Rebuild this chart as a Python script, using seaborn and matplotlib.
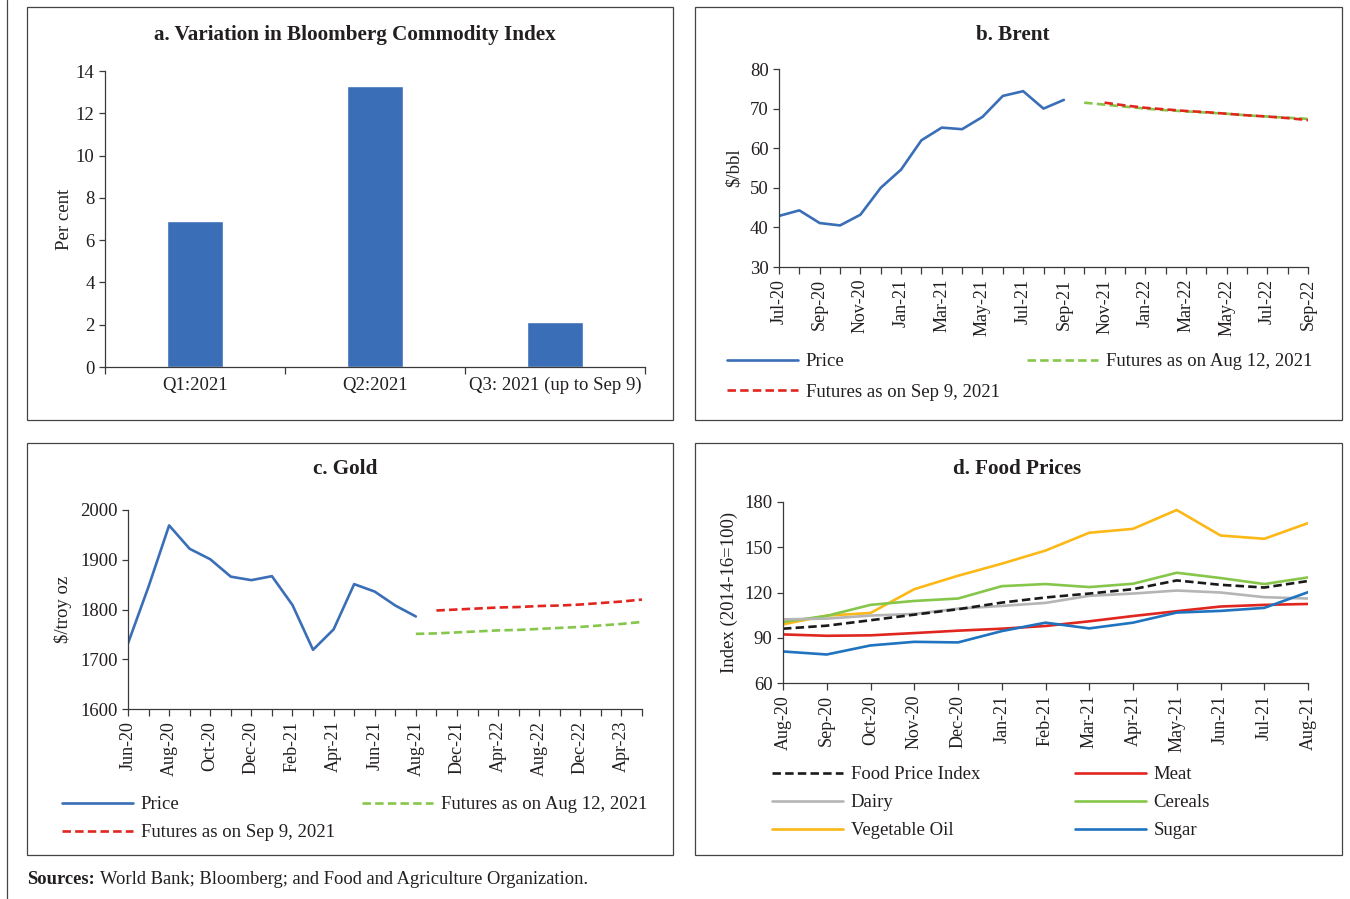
import matplotlib
matplotlib.use("Agg")
import matplotlib.pyplot as plt
import seaborn as sns
import pandas as pd
from matplotlib.patches import Rectangle
from matplotlib.lines import Line2D

# ---------------- data ----------------
# a. Bloomberg Commodity Index, quarterly variation (per cent)
bcom_quarters = ["Q1:2021", "Q2:2021", "Q3: 2021 (up to Sep 9)"]
bcom_change = [6.9, 13.3, 2.15]

# b. Brent ($/bbl), monthly Jul-20 .. Sep-22
brent_months = ["Jul-20", "Aug-20", "Sep-20", "Oct-20", "Nov-20", "Dec-20",
                "Jan-21", "Feb-21", "Mar-21", "Apr-21", "May-21", "Jun-21",
                "Jul-21", "Aug-21", "Sep-21", "Oct-21", "Nov-21", "Dec-21",
                "Jan-22", "Feb-22", "Mar-22", "Apr-22", "May-22", "Jun-22",
                "Jul-22", "Aug-22", "Sep-22"]
brent_price = [42.9, 44.3, 41.1, 40.5, 43.2, 50.0, 54.6, 62.0, 65.2, 64.8,
               67.9, 73.2, 74.4, 70.0, 72.2]
brent_fut_aug12 = [71.5, 71.0, 70.5, 70.0, 69.6, 69.3, 69.0, 68.7, 68.3,
                   68.0, 67.7, 67.4]          # Oct-21 .. Sep-22
brent_fut_sep9 = [71.5, 70.8, 70.2, 69.8, 69.4, 69.1, 68.7, 68.3, 68.0,
                  67.6, 67.1]                 # Nov-21 .. Sep-22

# c. Gold ($/troy oz)
gold_months = ["Jun-20", "Jul-20", "Aug-20", "Sep-20", "Oct-20", "Nov-20",
               "Dec-20", "Jan-21", "Feb-21", "Mar-21", "Apr-21", "May-21",
               "Jun-21", "Jul-21", "Aug-21", "Oct-21", "Dec-21", "Feb-22",
               "Apr-22", "Jun-22", "Aug-22", "Oct-22", "Dec-22", "Feb-23",
               "Apr-23", "Jun-23"]
gold_price = [1732, 1846, 1969, 1922, 1901, 1866, 1859, 1867, 1809, 1719,
              1760, 1851, 1836, 1808, 1786]
gold_fut_aug12 = [1751, 1752, 1754, 1756, 1758, 1759, 1761, 1763, 1765,
                  1768, 1771, 1775]           # Aug-21 .. Jun-23
gold_fut_sep9 = [1798, 1800, 1802, 1804, 1805, 1807, 1808, 1810, 1813,
                 1816, 1820]                  # Oct-21 .. Jun-23

# d. FAO food prices (2014-16=100)
food_months = ["Aug-20", "Sep-20", "Oct-20", "Nov-20", "Dec-20", "Jan-21",
               "Feb-21", "Mar-21", "Apr-21", "May-21", "Jun-21", "Jul-21",
               "Aug-21"]
food_index = [96.0, 98.0, 101.6, 105.3, 108.9, 113.3, 116.7, 119.3, 122.2,
              128.0, 125.1, 123.3, 127.6]
meat = [92.2, 91.3, 91.6, 93.1, 94.7, 96.0, 97.8, 100.9, 104.4, 107.6,
        110.7, 111.8, 112.4]
dairy = [102.2, 102.7, 104.7, 105.8, 109.3, 111.1, 113.1, 117.8, 119.3,
         121.3, 120.0, 116.9, 116.0]
cereals = [100.5, 104.5, 111.8, 114.4, 116.0, 124.2, 125.6, 123.6, 125.8,
           133.1, 129.6, 125.6, 130.0]
veg_oil = [98.9, 104.7, 106.4, 122.2, 131.1, 139.1, 147.8, 159.6, 162.2,
           174.7, 157.8, 155.6, 166.0]
sugar = [80.9, 78.9, 84.9, 87.3, 86.9, 94.4, 100.0, 96.2, 100.0, 106.7,
         107.8, 109.8, 120.2]

# ---------------- style ----------------
sns.set_theme(style="ticks")
plt.rcParams["font.family"] = ["Liberation Serif", "DejaVu Serif"]
INK = "#231F20"
AXC = "#3a3a3a"
plt.rcParams.update({
    "text.color": INK, "axes.labelcolor": INK,
    "xtick.color": AXC, "ytick.color": AXC,
    "xtick.labelcolor": INK, "ytick.labelcolor": INK,
    "axes.edgecolor": AXC, "axes.linewidth": 0.9,
    "xtick.major.width": 0.9, "ytick.major.width": 0.9,
    "xtick.major.size": 5, "ytick.major.size": 4,
    "xtick.labelsize": 13, "ytick.labelsize": 13.5,
    "axes.labelsize": 13.5,
})

BLUE = "#3A6EB7"
GREEN = "#86C64A"
RED = "#E0261F"
YELLOW = "#FBB817"
GREY = "#B5B5B5"
SUGAR = "#1F73BF"
LW = 1.9
DASH = (0, (3.2, 1.6))
LEG_FS = 13.5

W, H = 1350, 899
fig = plt.figure(figsize=(W / 100, H / 100), dpi=100)


def fx(x):
    return x / W


def fy(y):
    return 1 - y / H


def axes_px(left, top, right, bottom):
    return fig.add_axes([fx(left), fy(bottom), (right - left) / W, (bottom - top) / H])


# panel frames and page rule
for (l, t, r, b) in [(27, 7, 673, 420), (695, 7, 1342, 420),
                     (27, 443, 673, 855), (695, 443, 1342, 855)]:
    fig.patches.append(Rectangle((fx(l), fy(b)), (r - l) / W, (b - t) / H,
                                 transform=fig.transFigure, fill=False,
                                 edgecolor="#444444", linewidth=0.9))
fig.lines.append(Line2D([fx(7), fx(7)], [0, 1], transform=fig.transFigure,
                        color="#444444", linewidth=0.9))


def title(x, y, s):
    fig.text(fx(x), fy(y), s, ha="center", va="center",
             fontsize=15.2, fontweight="bold")


def strip(ax):
    sns.despine(ax=ax)
    ax.tick_params(direction="out")


def legend(ax, handles, labels, x0, x1, ytop, spacing):
    ax.legend(handles, labels, ncol=2, mode="expand", loc="upper left",
              bbox_to_anchor=(fx(x0), fy(ytop), (x1 - x0) / W, 0.001),
              bbox_transform=fig.transFigure, frameon=False, fontsize=LEG_FS,
              handlelength=3.8, handletextpad=0.4, borderaxespad=0,
              borderpad=0, labelspacing=spacing, columnspacing=1.0)


# ---------------- a. Bloomberg Commodity Index ----------------
ax = axes_px(105, 71, 645, 367)
df_a = pd.DataFrame({"quarter": bcom_quarters, "change": bcom_change})
sns.barplot(data=df_a, x="quarter", y="change", color=BLUE, saturation=1,
            width=0.315, ax=ax)
ax.set_xlim(-0.5, 2.5)
ax.set_ylim(0, 14)
ax.set_yticks(range(0, 15, 2))
ax.set_xticks([-0.5, 0.5, 1.5, 2.5])
ax.set_xticklabels([])
ax.set_xticks([0, 1, 2], minor=True)
ax.set_xticklabels(bcom_quarters, minor=True)
ax.tick_params(axis="x", which="minor", length=0, pad=7, labelsize=13.5)
ax.set_xlabel("")
ax.set_ylabel("Per cent", labelpad=2)
strip(ax)
title(355, 35, "a. Variation in Bloomberg Commodity Index")

# ---------------- b. Brent ----------------
ax = axes_px(779, 69, 1308, 267)
xb = list(range(len(brent_months)))
df_bp = pd.DataFrame({"x": xb[:len(brent_price)], "v": brent_price})
df_ba = pd.DataFrame({"x": xb[15:15 + len(brent_fut_aug12)], "v": brent_fut_aug12})
df_bs = pd.DataFrame({"x": xb[16:16 + len(brent_fut_sep9)], "v": brent_fut_sep9})
sns.lineplot(data=df_bp, x="x", y="v", color=BLUE, lw=LW, ax=ax)
sns.lineplot(data=df_ba, x="x", y="v", color=GREEN, lw=LW, linestyle=DASH, ax=ax)
sns.lineplot(data=df_bs, x="x", y="v", color=RED, lw=LW, linestyle=DASH, ax=ax)
ax.set_xlim(0, len(brent_months) - 1)
ax.set_ylim(30, 80)
ax.set_yticks(range(30, 81, 10))
ax.set_xticks(xb)
ax.set_xticklabels([m if i % 2 == 0 else "" for i, m in enumerate(brent_months)],
                   rotation=90)
ax.set_xlabel("")
ax.set_ylabel("$/bbl", labelpad=5)
strip(ax)
title(1013, 35, "b. Brent")
hb = [Line2D([], [], color=BLUE, lw=LW),
      Line2D([], [], color=RED, lw=LW, linestyle=DASH),
      Line2D([], [], color=GREEN, lw=LW, linestyle=DASH)]
legend(ax, hb, ["Price", "Futures as on Sep 9, 2021", "Futures as on Aug 12, 2021"],
       727, 1312, 354, 0.72)

# ---------------- c. Gold ----------------
ax = axes_px(128, 510, 642, 709)
xg = list(range(len(gold_months)))
df_gp = pd.DataFrame({"x": xg[:len(gold_price)], "v": gold_price})
df_ga = pd.DataFrame({"x": xg[14:14 + len(gold_fut_aug12)], "v": gold_fut_aug12})
df_gs = pd.DataFrame({"x": xg[15:15 + len(gold_fut_sep9)], "v": gold_fut_sep9})
sns.lineplot(data=df_gp, x="x", y="v", color=BLUE, lw=LW, ax=ax)
sns.lineplot(data=df_ga, x="x", y="v", color=GREEN, lw=LW, linestyle=DASH, ax=ax)
sns.lineplot(data=df_gs, x="x", y="v", color=RED, lw=LW, linestyle=DASH, ax=ax)
ax.set_xlim(0, len(gold_months) - 1)
ax.set_ylim(1600, 2000)
ax.set_yticks(range(1600, 2001, 100))
ax.set_xticks(xg)
ax.set_xticklabels([m if i % 2 == 0 else "" for i, m in enumerate(gold_months)],
                   rotation=90)
ax.set_xlabel("")
ax.set_ylabel("$/troy oz", labelpad=6)
strip(ax)
title(345, 469, "c. Gold")
legend(ax, hb, ["Price", "Futures as on Sep 9, 2021", "Futures as on Aug 12, 2021"],
       62, 647, 797, 0.58)

# ---------------- d. Food Prices ----------------
ax = axes_px(783, 502, 1308, 683)
xd = list(range(len(food_months)))
series_d = [
    ("Food Price Index", food_index, "#1a1a1a", DASH),
    ("Dairy", dairy, GREY, "-"),
    ("Vegetable Oil", veg_oil, YELLOW, "-"),
    ("Meat", meat, RED, "-"),
    ("Cereals", cereals, GREEN, "-"),
    ("Sugar", sugar, SUGAR, "-"),
]
draw_order = ["Vegetable Oil", "Cereals", "Dairy", "Food Price Index", "Meat", "Sugar"]
lookup = {s[0]: s for s in series_d}
for name in draw_order:
    _, vals, col, ls = lookup[name]
    sns.lineplot(x=xd, y=vals, color=col, lw=LW, linestyle=ls, ax=ax)
ax.set_xlim(0, len(food_months) - 1)
ax.set_ylim(60, 180)
ax.set_yticks(range(60, 181, 30))
ax.set_xticks(xd)
ax.set_xticklabels(food_months, rotation=90)
ax.set_xlabel("")
ax.set_ylabel("Index (2014-16=100)", labelpad=5)
strip(ax)
title(1017, 469, "d. Food Prices")
hd = [Line2D([], [], color=c, lw=LW, linestyle=ls) for (_, _, c, ls) in series_d]
legend(ax, hd, [s[0] for s in series_d], 772, 1210, 767, 0.58)

# ---------------- source note ----------------
t1 = fig.text(fx(27), fy(880), "Sources:", fontsize=13.3, fontweight="bold",
              va="center", ha="left")
fig.canvas.draw()
bb = t1.get_window_extent(fig.canvas.get_renderer())
fig.text(bb.x1 / W + 5 / W, fy(880),
         "World Bank; Bloomberg; and Food and Agriculture Organization.",
         fontsize=13.3, va="center", ha="left")

fig.savefig("out.png", dpi=100)
